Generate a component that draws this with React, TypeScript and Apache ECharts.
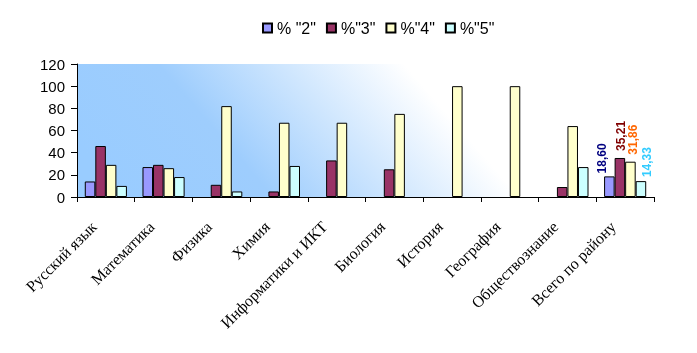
import React, { useEffect, useRef } from "react";
import * as echarts from "echarts";

const categories = [
  "Русский язык",
  "Математика",
  "Физика",
  "Химия",
  "Информатики и ИКТ",
  "Биология",
  "История",
  "География",
  "Обществознание",
  "Всего по району",
];
const seriesNames = ['% "2"', '%"3"', '%"4"', '%"5"'];
const grade2 = [14, 27, 0, 0, 0, 0, 0, 0, 0, 18.6];
const grade3 = [46, 29, 11, 5, 33, 25, 0, 0, 9, 35.21];
const grade4 = [29, 26, 82, 67, 67, 75, 100, 100, 64, 31.86];
const grade5 = [10, 18, 5, 28, 0, 0, 0, 0, 27, 14.33];
const barColors = ["#9999FF", "#993366", "#FFFFCC", "#CCFFFF"];
const labelColors = ["#000080", "#800000", "#FF6600", "#33CCFF"];
// offsets in the rotated label frame: [along text (up), across (right)]
const labelOffsets = [
  [0, -7],
  [4, 1],
  [4, 3],
  [1, 6],
];
const yTicks = { min: 0, max: 120, interval: 20 };

export default function App() {
  const ref = useRef<HTMLDivElement>(null);
  useEffect(() => {
    if (!ref.current) return;
    const chart = echarts.init(ref.current, undefined, { renderer: "svg" });
    const all = [grade2, grade3, grade4, grade5];
    const series = all.map((vals, si) => ({
      name: seriesNames[si],
      type: "bar",
      barGap: "0%",
      barCategoryGap: "27%",
      itemStyle: { color: barColors[si], borderColor: "#000", borderWidth: 1 },
      data: vals.map((v, i) =>
        i === vals.length - 1
          ? {
              value: v,
              label: {
                show: true,
                position: "top",
                rotate: 90,
                align: "left",
                verticalAlign: "middle",
                distance: 3,
                offset: labelOffsets[si],
                color: labelColors[si],
                fontFamily: "Liberation Sans",
                fontWeight: "bold",
                fontSize: 12,
                formatter: (p: any) => p.value.toFixed(2).replace(".", ","),
              },
            }
          : v === 0
          ? null
          : v
      ),
    }));
    chart.setOption({
      animation: false,
      legend: {
        top: 15,
        left: 257,
        itemWidth: 9,
        itemHeight: 9,
        itemGap: 10,
        icon: "rect",
        textStyle: { fontFamily: "Liberation Sans", fontSize: 16, color: "#000" },
        data: seriesNames,
      },
      grid: {
        left: 77,
        right: 43,
        top: 64,
        bottom: 156,
        show: true,
        borderWidth: 0,
        backgroundColor: {
          type: "linear",
          x: 0,
          y: 0.6,
          x2: 1,
          y2: 0.4,
          colorStops: [
            { offset: 0, color: "#99CCFF" },
            { offset: 0.25, color: "#9ECDFD" },
            { offset: 0.66, color: "#FFFFFF" },
            { offset: 1, color: "#FFFFFF" },
          ],
        },
      },
      xAxis: {
        type: "category",
        data: categories,
        axisLine: { lineStyle: { color: "#000", width: 1 } },
        axisTick: { show: true, length: 5, lineStyle: { color: "#000" } },
        axisLabel: {
          rotate: 45,
          interval: 0,
          margin: 15,
          padding: [0, 17, 0, 0],
          fontFamily: "Liberation Serif",
          fontSize: 16,
          color: "#000",
        },
      },
      yAxis: {
        type: "value",
        ...yTicks,
        splitLine: { show: false },
        axisLine: { show: true, lineStyle: { color: "#000", width: 1 } },
        axisTick: { show: true, length: 6, lineStyle: { color: "#000" } },
        axisLabel: {
          fontFamily: "Liberation Sans",
          fontSize: 15,
          color: "#000",
          margin: 12,
        },
      },
      series,
    });
    return () => chart.dispose();
  }, []);
  return (
    <div
      ref={ref}
      style={{ position: "fixed", left: 0, top: 0, width: 697, height: 353 }}
    />
  );
}
